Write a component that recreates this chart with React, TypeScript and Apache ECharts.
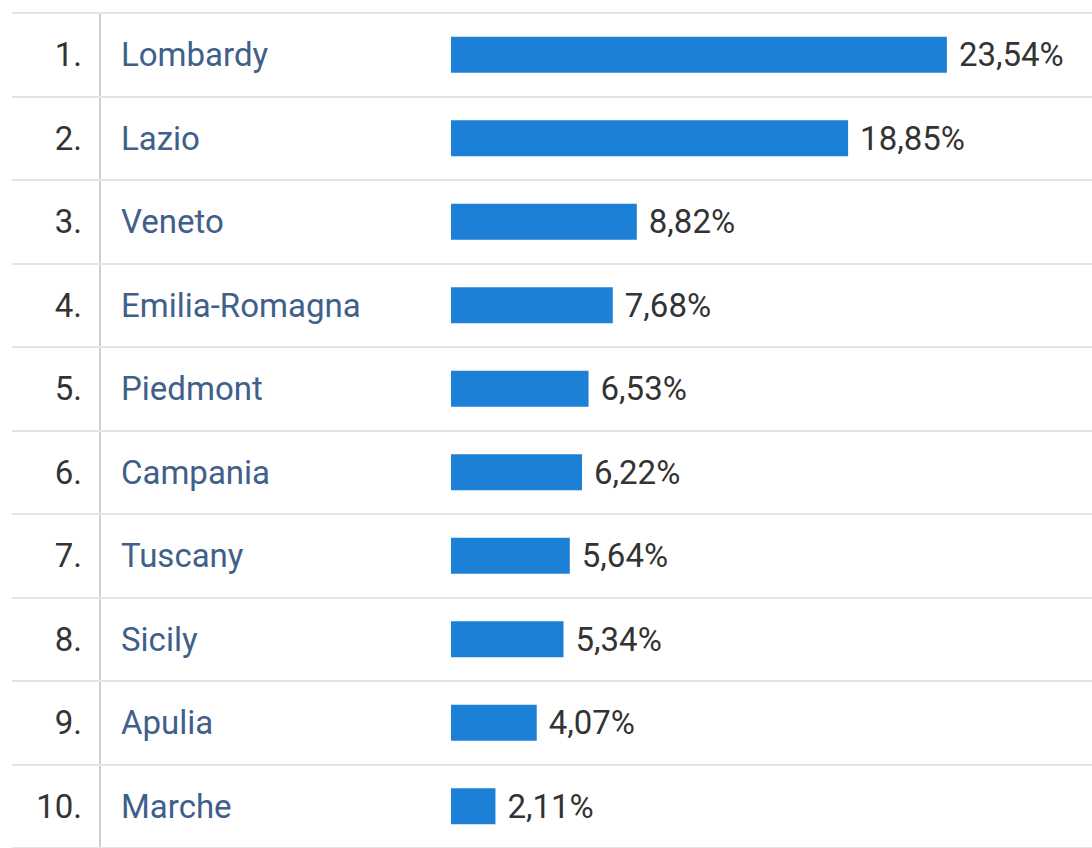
import React, { useEffect, useRef } from "react";
import * as echarts from "echarts";

const ranks = ["1.", "2.", "3.", "4.", "5.", "6.", "7.", "8.", "9.", "10."];
const regions = [
  "Lombardy",
  "Lazio",
  "Veneto",
  "Emilia-Romagna",
  "Piedmont",
  "Campania",
  "Tuscany",
  "Sicily",
  "Apulia",
  "Marche",
];
const shares = [23.54, 18.85, 8.82, 7.68, 6.53, 6.22, 5.64, 5.34, 4.07, 2.11];

const FONT = "Roboto, 'Noto Sans', sans-serif";
const FS = 33;

export default function App() {
  const ref = useRef<HTMLDivElement>(null);
  useEffect(() => {
    if (!ref.current) return;
    const chart = echarts.init(ref.current, null, { renderer: "svg" });
    chart.setOption({
      animation: false,
      backgroundColor: "#ffffff",
      grid: [
        { left: 12, right: 0, top: 13, height: 840 },
        { left: 451, right: 9, top: 13, height: 840 },
      ],
      xAxis: [
        { gridIndex: 0, type: "value", min: 0, max: 1, show: false },
        { gridIndex: 1, type: "value", min: 0, max: 30, show: false },
      ],
      yAxis: [
        {
          gridIndex: 0,
          type: "category",
          data: regions,
          inverse: true,
          axisLine: { show: false },
          axisTick: { show: false },
          axisLabel: { show: false },
          splitLine: { show: true, lineStyle: { color: "#e4e4e4", width: 2 } },
        },
        {
          gridIndex: 1,
          type: "category",
          position: "left",
          data: regions,
          inverse: true,
          axisLine: { show: false },
          axisTick: { show: false },
          splitLine: { show: false },
          axisLabel: {
            margin: 330,
            align: "left",
            color: "#40608a",
            fontSize: FS,
            fontFamily: FONT,
          },
        },
        {
          gridIndex: 1,
          type: "category",
          position: "left",
          data: ranks,
          inverse: true,
          axisLine: { show: false },
          axisTick: { show: false },
          splitLine: { show: false },
          axisLabel: {
            margin: 369,
            align: "right",
            color: "#333333",
            fontSize: FS,
            fontFamily: FONT,
          },
        },
      ],
      graphic: [
        {
          type: "line",
          shape: { x1: 100, y1: 12, x2: 100, y2: 848 },
          style: { stroke: "#cfcfcf", lineWidth: 2 },
          silent: true,
        },
      ],
      series: [
        {
          type: "bar",
          xAxisIndex: 1,
          yAxisIndex: 1,
          data: shares,
          barWidth: 36,
          itemStyle: { color: "#1b80d6" },
          label: {
            show: true,
            position: "right",
            distance: 12,
            color: "#333333",
            fontSize: FS,
            fontFamily: FONT,
            formatter: (p: any) => p.value.toFixed(2).replace(".", ",") + "%",
          },
        },
      ],
    });
    return () => chart.dispose();
  }, []);
  return (
    <div
      ref={ref}
      style={{ position: "absolute", left: 0, top: 0, width: 1092, height: 848 }}
    />
  );
}
